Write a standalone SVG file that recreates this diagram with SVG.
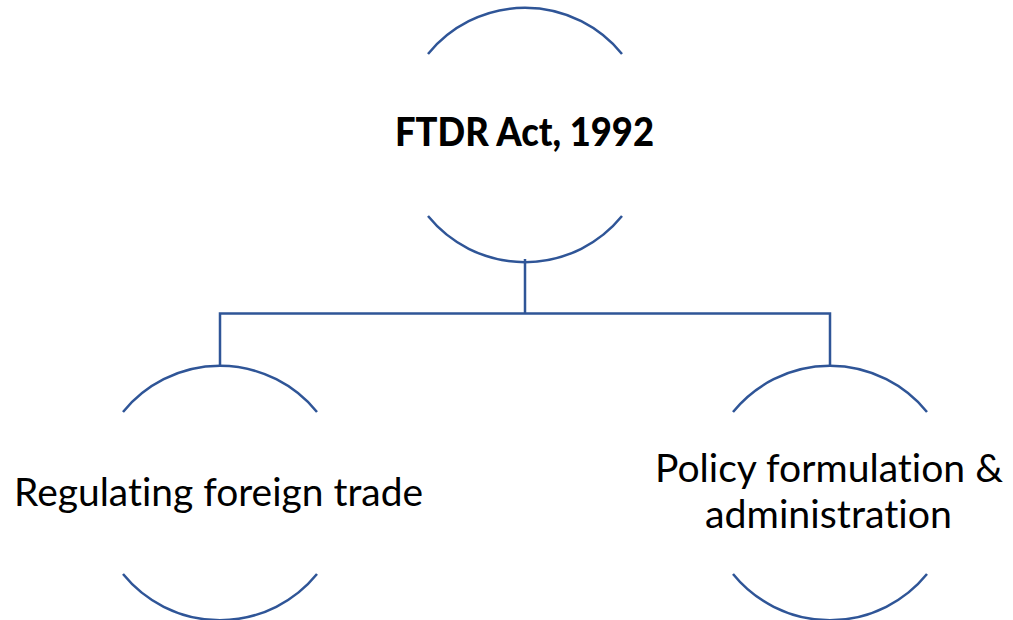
<svg xmlns="http://www.w3.org/2000/svg" width="1013" height="620" viewBox="0 0 1013 620">
<style>
.arc{fill:none;stroke:#2F5597;stroke-width:2.5}
.conn{fill:none;stroke:#2F5597;stroke-width:2.5}
.t{font-family:Lato,"Open Sans","Liberation Sans",sans-serif;font-size:39px;fill:#000;text-anchor:middle;font-variant-ligatures:none;font-feature-settings:"liga" 0}
.b{font-weight:900}
</style>
<rect width="1013" height="620" fill="#fff"/>
<g id="connectors">
<path class="conn" d="M525 259 V313.5 M220 367 V313.5 H830 V367"/>
</g>
<g id="node-ftdr">
<path class="arc" d="M428 54 A125 125 0 0 1 622 54"/>
<path class="arc" d="M428 216 A125 125 0 0 0 622 216"/>
<text class="t b" x="524.5" y="146" textLength="259" lengthAdjust="spacingAndGlyphs">FTDR Act, 1992</text>
</g>
<g id="node-regulating">
<path class="arc" d="M123 412 A125 125 0 0 1 317 412"/>
<path class="arc" d="M123 574 A125 125 0 0 0 317 574"/>
<text class="t" x="218.5" y="505.5" textLength="409" lengthAdjust="spacingAndGlyphs">Regulating foreign trade</text>
</g>
<g id="node-policy">
<path class="arc" d="M733 412 A125 125 0 0 1 927 412"/>
<path class="arc" d="M733 574 A125 125 0 0 0 927 574"/>
<text class="t" x="829" y="482" textLength="348" lengthAdjust="spacingAndGlyphs">Policy formulation &amp;</text>
<text class="t" x="828.5" y="528" textLength="247" lengthAdjust="spacingAndGlyphs">administration</text>
</g>
</svg>
